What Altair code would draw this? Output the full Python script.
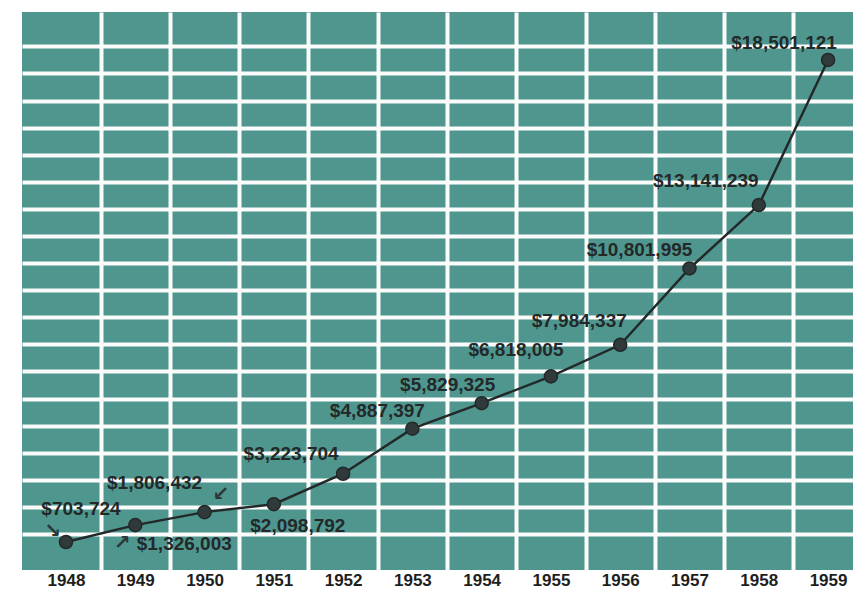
import altair as alt
import pandas as pd

years = [1948, 1949, 1950, 1951, 1952, 1953, 1954, 1955, 1956, 1957, 1958, 1959]
values = [703724, 1326003, 1806432, 2098792, 3223704, 4887397, 5829325,
          6818005, 7984337, 10801995, 13141239, 18501121]
labels = ["$703,724", "$1,326,003", "$1,806,432", "$2,098,792", "$3,223,704",
          "$4,887,397", "$5,829,325", "$6,818,005", "$7,984,337", "$10,801,995",
          "$13,141,239", "$18,501,121"]

# layout-only: label offsets (pixels) from each point
label_offsets = [(15, -33), (49, 19), (-50, -29), (24, 22), (-52, -20), (-35, -18),
                 (-34, -18), (-35, -26), (-41, -24), (-50, -18), (-53, -24), (-44, -17)]
# layout-only: little pointer arrows for the crowded early labels
arrow_marks = {1948: ("\u2198", -13, -11), 1949: ("\u2197", -13, 18), 1950: ("\u2199", 16, -18)}

df = pd.DataFrame({"year": years, "value": values, "label": labels})

TEAL = "#4f968f"
DARK = "#232929"
GRID = "#fbfbfb"

x_ticks = []
for y in years:
    x_ticks.append(y)
    if y < years[-1]:
        x_ticks.append(y + 0.5)

x_enc = alt.X(
    "year:Q",
    scale=alt.Scale(domain=[1947.365, 1959.36], nice=False, zero=False),
    axis=alt.Axis(
        values=x_ticks,
        title=None,
        grid=True,
        gridColor=GRID,
        gridWidth=4,
        gridOpacity={"condition": {"test": "datum.value % 1 !== 0", "value": 1}, "value": 0},
        ticks=False,
        domain=False,
        labelExpr="datum.value % 1 === 0 ? toString(datum.value) : ''",
        labelFont="Liberation Sans",
        labelFontWeight="bold",
        labelFontSize=17,
        labelColor="#1e1e1e",
        labelPadding=2,
        labelOverlap=False,
        labelFlush=False,
        labelBound=False,
    ),
)
y_enc = alt.Y(
    "value:Q",
    scale=alt.Scale(domain=[-330000, 20270000], nice=False, zero=False),
    axis=alt.Axis(
        values=[i * 1000000 for i in range(1, 20)],
        title=None,
        grid=True,
        gridColor=GRID,
        gridWidth=4,
        labels=False,
        ticks=False,
        domain=False,
    ),
)

base = alt.Chart(df).encode(x=x_enc, y=y_enc)

line = base.mark_line(color=DARK, strokeWidth=2.5)
pts = base.mark_circle(size=170, color="#313a3a", opacity=1, stroke=DARK, strokeWidth=1.5)

layers = [line, pts]
for yr, (dx, dy) in zip(years, label_offsets):
    layers.append(
        base.transform_filter(alt.datum.year == yr).mark_text(
            font="Liberation Sans", fontWeight="bold", fontSize=19, color=DARK,
            dx=dx, dy=dy, align="center", baseline="middle",
        ).encode(text="label:N")
    )
for yr, (glyph, dx, dy) in arrow_marks.items():
    layers.append(
        base.transform_filter(alt.datum.year == yr).mark_text(
            font="DejaVu Sans", fontWeight="bold", fontSize=20, color="#2a3838",
            dx=dx, dy=dy, align="center", baseline="middle",
        ).encode(text=alt.value(glyph))
    )

chart = alt.layer(*layers).properties(
    width=831, height=558,
    autosize="none",
    padding={"left": 22, "top": 12, "right": 0, "bottom": 19},
    background="white",
).configure_view(fill=TEAL, stroke=None)

chart.save("out.html", embed_options={"renderer": "svg", "actions": False})
